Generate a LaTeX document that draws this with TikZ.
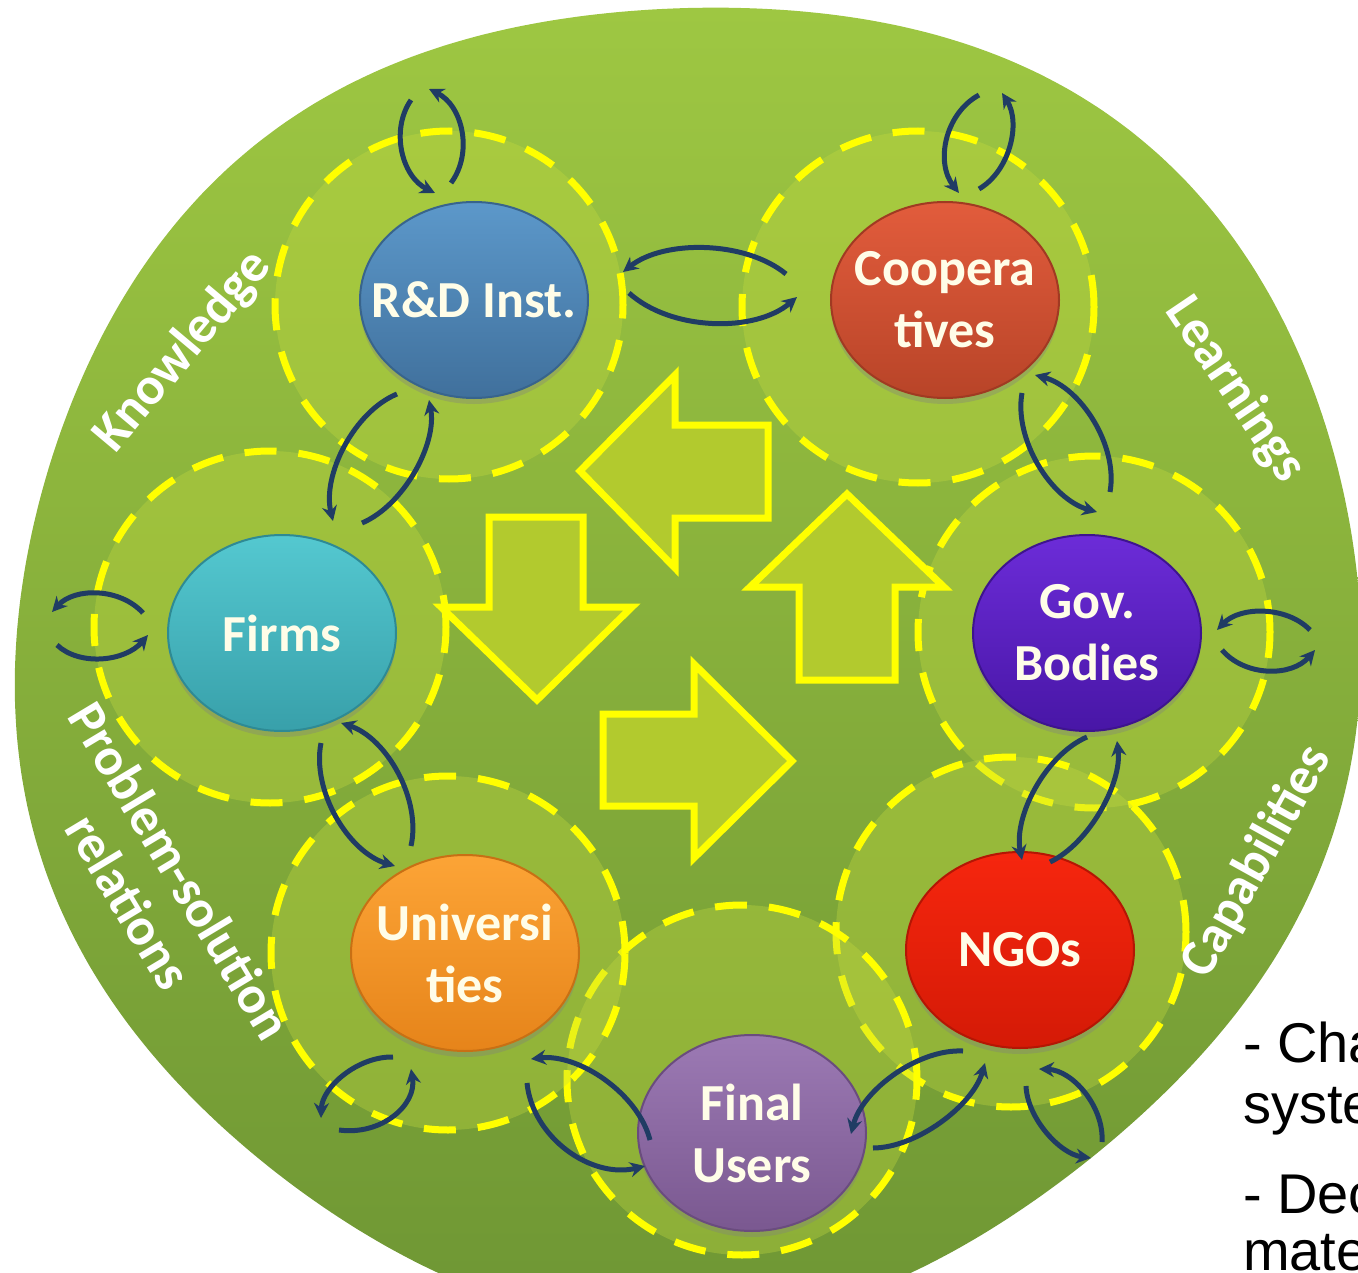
\documentclass[tikz,border=0pt]{standalone}
\usepackage{fontspec}
\setmainfont{Carlito}
\newfontfamily\arialfont{Liberation Sans}
\usetikzlibrary{shapes.geometric,arrows.meta,shadows,calc}

\definecolor{ringtop}{RGB}{158,199,66}
\definecolor{ringbot}{RGB}{110,150,52}
\definecolor{dashyel}{RGB}{255,255,0}
\definecolor{zonefill}{RGB}{196,218,62}
\definecolor{flow}{RGB}{32,60,100}
\definecolor{blockfill}{RGB}{178,202,46}
\definecolor{labeltext}{RGB}{255,253,232}

% curved one-way flow from #1 to #2, bulging by the offset #3
\newcommand{\flowcurve}[3]{%
  \draw[flowarc] (#1) .. controls ($(#1)!0.25!(#2)+(#3)$) and ($(#2)!0.25!(#1)+(#3)$) .. (#2);}

\begin{document}
\begin{tikzpicture}[x=1pt,y=-1pt,
  zone/.style={draw=dashyel, line width=7pt, dash pattern=on 32pt off 22pt,
    fill=zonefill, fill opacity=0.35},
  actor/.style={ellipse, minimum width=228pt, minimum height=196pt, inner sep=0pt,
    line width=2pt, drop shadow={shadow xshift=0pt, shadow yshift=-6pt, opacity=0.35}},
  actortext/.style={text=labeltext, font=\bfseries\fontsize{52}{62}\selectfont,
    align=center, inner sep=0pt},
  flowarc/.style={draw=flow, line width=5pt, -{Stealth[length=15pt,width=15pt]}},
  blockarrow/.style={draw=dashyel, line width=7pt, fill=blockfill, line join=miter},
  ringlabel/.style={text=white, font=\bfseries\fontsize{53}{60}\selectfont,
    align=center, inner sep=0pt},
  sidetext/.style={font=\arialfont\fontsize{56}{60}\selectfont, anchor=base west,
    inner sep=0pt}
]
\useasboundingbox (0,0) rectangle (1358,1273);
\clip (0,0) rectangle (1358,1273);

% outer green disc (slightly egg-shaped outline)
\path[top color=ringtop, bottom color=ringbot]
  plot[domain=0:357, samples=120, smooth cycle, variable=\t]
  ({688+673*cos(\t)*(1+0.045*sin(\t)*sin(2*\t)^2+0.013*sin(2*\t))},
   {668-660*sin(\t)*(1+0.045*sin(\t)*sin(2*\t)^2+0.013*sin(2*\t))});

% dashed zones around each actor
\draw[zone] (449,305) circle [radius=174pt];
\draw[zone] (918,307) circle [radius=176pt];
\draw[zone] (1094,632) circle [radius=176pt];
\draw[zone] (1011,932) circle [radius=175pt];
\draw[zone] (742,1080) circle [radius=175pt];
\draw[zone] (448,953) circle [radius=177pt];
\draw[zone] (270,627) circle [radius=176pt];

% central block arrows
\draw[blockarrow] (580,471) -- (675,375) -- (675,425) -- (768,425) -- (768,518)
  -- (675,518) -- (675,568) -- cycle;
\draw[blockarrow] (489,517) -- (583,517) -- (583,607) -- (632,607) -- (537,700)
  -- (441,607) -- (489,607) -- cycle;
\draw[blockarrow] (603,714) -- (694,714) -- (694,664) -- (792,761) -- (694,858)
  -- (694,806) -- (603,806) -- cycle;
\draw[blockarrow] (847,494) -- (944,587) -- (895,587) -- (895,680) -- (799,680)
  -- (799,587) -- (750,587) -- cycle;

% actors
\node[actor, top color={rgb,255:red,92;green,152;blue,202}, bottom color={rgb,255:red,64;green,112;blue,156},
  draw={rgb,255:red,56;green,100;blue,140}] (rd) at (474,300) {};
\node[actortext] (rdtxt) at (rd.center) {R\&D Inst.};

\node[actor, top color={rgb,255:red,226;green,92;blue,60}, bottom color={rgb,255:red,184;green,68;blue,40},
  draw={rgb,255:red,160;green,58;blue,34}] (coop) at (945,300) {};
\node[actortext] (cooptxt) at (coop.center) {Coopera\\tives};

\node[actor, top color={rgb,255:red,108;green,44;blue,216}, bottom color={rgb,255:red,72;green,22;blue,166},
  draw={rgb,255:red,62;green,20;blue,142}] (gov) at (1087,633) {};
\node[actortext] (govtxt) at (gov.center) {Gov.\\Bodies};

\node[actor, top color={rgb,255:red,246;green,38;blue,14}, bottom color={rgb,255:red,212;green,26;blue,6},
  draw={rgb,255:red,180;green,22;blue,4}] (ngo) at (1020,950) {};
\node[actortext] (ngotxt) at (ngo.center) {NGOs};

\node[actor, top color={rgb,255:red,156;green,122;blue,180}, bottom color={rgb,255:red,122;green,88;blue,144},
  draw={rgb,255:red,106;green,76;blue,126}] (fu) at (752,1133) {};
\node[actortext] (futxt) at (fu.center) {Final\\Users};

\node[actor, top color={rgb,255:red,252;green,164;blue,54}, bottom color={rgb,255:red,230;green,132;blue,26},
  draw={rgb,255:red,200;green,112;blue,20}] (uni) at (465,953) {};
\node[actortext] (unitxt) at (uni.center) {Universi\\ties};

\node[actor, top color={rgb,255:red,84;green,200;blue,208}, bottom color={rgb,255:red,56;green,160;blue,170},
  draw={rgb,255:red,46;green,138;blue,148}] (firms) at (282,633) {};
\node[actortext] (firmstxt) at (firms.center) {Firms};

% end points of the two-way flows
\coordinate (a1s) at (411,100);  \coordinate (a1e) at (435,193);
\coordinate (b1s) at (451,183);  \coordinate (b1e) at (429,89);
\coordinate (a2s) at (397,394);  \coordinate (a2e) at (333,521);
\coordinate (b2s) at (362,523);  \coordinate (b2e) at (429,400);
\coordinate (a3s) at (143,613);  \coordinate (a3e) at (52,612);
\coordinate (b3s) at (57,645);   \coordinate (b3e) at (148,635);
\coordinate (a4s) at (321,743);  \coordinate (a4e) at (395,866);
\coordinate (b4s) at (411,846);  \coordinate (b4e) at (341,723);
\coordinate (a5s) at (393,1057); \coordinate (a5e) at (321,1118);
\coordinate (b5s) at (339,1130); \coordinate (b5e) at (411,1069);
\coordinate (a6s) at (527,1083); \coordinate (a6e) at (645,1166);
\coordinate (b6s) at (650,1140); \coordinate (b6e) at (531,1059);
\coordinate (a7s) at (963,1051); \coordinate (a7e) at (851,1134);
\coordinate (b7s) at (873,1148); \coordinate (b7e) at (985,1063);
\coordinate (a8s) at (1026,1086); \coordinate (a8e) at (1091,1158);
\coordinate (b8s) at (1102,1142); \coordinate (b8e) at (1039,1069);
\coordinate (a9s) at (1087,737); \coordinate (a9e) at (1022,860);
\coordinate (b9s) at (1050,862); \coordinate (b9e) at (1117,741);
\coordinate (a10s) at (1310,630); \coordinate (a10e) at (1217,630);
\coordinate (b10s) at (1222,650); \coordinate (b10e) at (1315,650);
\coordinate (a11s) at (1022,393); \coordinate (a11e) at (1097,512);
\coordinate (b11s) at (1110,492); \coordinate (b11e) at (1035,375);
\coordinate (a12s) at (979,95);  \coordinate (a12e) at (959,193);
\coordinate (b12s) at (979,189); \coordinate (b12e) at (1002,93);
\coordinate (a13s) at (786,274); \coordinate (a13e) at (623,272);
\coordinate (b13s) at (629,293); \coordinate (b13e) at (797,297);

% two-way flows
\flowcurve{a1s}{a1e}{-27,7}
\flowcurve{b1s}{b1e}{28,-7}
\flowcurve{a2s}{a2e}{-27,-14}
\flowcurve{b2s}{b2e}{25,13}
\flowcurve{a3s}{a3e}{0,-25}
\flowcurve{b3s}{b3e}{0,24}
\flowcurve{a4s}{a4e}{-28,17}
\flowcurve{b4s}{b4e}{28,-16}
\flowcurve{a5s}{a5e}{-17,-16}
\flowcurve{b5s}{b5e}{24,21}
\flowcurve{a6s}{a6e}{-24,34}
\flowcurve{b6s}{b6e}{18,-26}
\flowcurve{a7s}{a7e}{-17,-23}
\flowcurve{b7s}{b7e}{16,21}
\flowcurve{a8s}{a8e}{-15,14}
\flowcurve{b8s}{b8e}{18,-17}
\flowcurve{a9s}{a9e}{-25,-13}
\flowcurve{b9s}{b9e}{22,12}
\flowcurve{a10s}{a10e}{0,-24}
\flowcurve{b10s}{b10e}{0,27}
\flowcurve{a11s}{a11e}{-27,17}
\flowcurve{b11s}{b11e}{27,-17}
\flowcurve{a12s}{a12e}{-29,-6}
\flowcurve{b12s}{b12e}{25,6}
\flowcurve{a13s}{a13e}{0,-33}
\flowcurve{b13s}{b13e}{0,37}

% labels around the ring
\node[ringlabel, rotate=50] (know) at (183,352) {Knowledge};
\node[ringlabel, rotate=-56] (learn) at (1235,390) {Learnings};
\node[ringlabel, rotate=61] (capab) at (1257,862) {Capabilities};
\node[ringlabel, rotate=-59] (probsol) at (155,886) {Problem-solution\\relations};

% side notes
\node[sidetext] (note1) at (1243,1062) {- Cha};
\node[sidetext] (note2) at (1243,1123) {syste};
\node[sidetext] (note3) at (1243,1213) {- Dec};
\node[sidetext] (note4) at (1243,1270) {mate};
\end{tikzpicture}
\end{document}
